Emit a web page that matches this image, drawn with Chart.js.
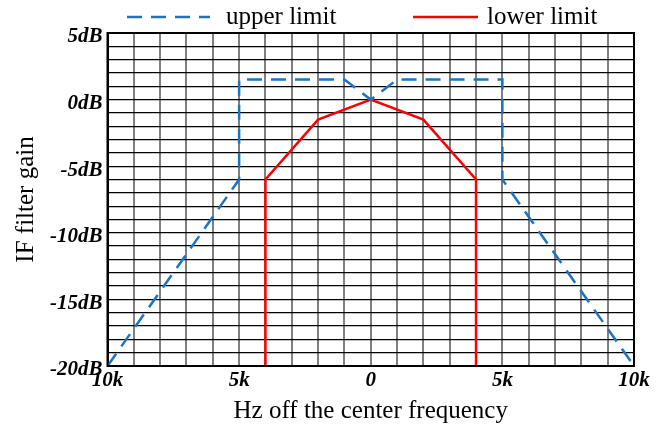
<!DOCTYPE html>
<html>
<head>
<meta charset="utf-8">
<script src="https://cdn.jsdelivr.net/npm/chart.js@4.4.0/dist/chart.umd.min.js"></script>
<style>
    html, body { margin: 0; padding: 0; background: #fff; }
    #wrap { width: 671px; height: 428px; }
</style>
</head>
<body>
<div id="wrap"><canvas id="ifChart"></canvas></div>
<script>
// offsets from the center frequency (Hz) and gain (dB)
const upperFreq = [-10000, -5000, -5000, -1000, 0, 1000, 5000, 5000, 10000];
const upperGain = [-20, -6, 1.5, 1.5, 0, 1.5, 1.5, -6, -20];
const lowerFreq = [-4000, -4000, -2000, 0, 2000, 4000, 4000];
const lowerGain = [-20, -6, -1.5, 0, -1.5, -6, -20];
const seriesNames = ['upper limit', 'lower limit'];
const xTickLabels = { '-10000': '10k', '-5000': '5k', '0': '0', '5000': '5k', '10000': '10k' };
const yTickLabels = { '5': '5dB', '0': '0dB', '-5': '-5dB', '-10': '-10dB', '-15': '-15dB', '-20': '-20dB' };

const toPoints = (xs, ys) => xs.map((x, i) => ({ x: x, y: ys[i] }));
const serif = 'Liberation Serif';

// black frame round the plot area
const frame = {
    id: 'frame',
    afterDatasetsDraw(chart) {
        const a = chart.chartArea, c = chart.ctx;
        c.save();
        c.strokeStyle = '#000';
        c.lineWidth = 2;
        c.strokeRect(a.left, a.top, a.right - a.left, a.bottom - a.top);
        c.restore();
    }
};

// legend row above the plot, line sample + label for each dataset
const lineLegend = {
    id: 'lineLegend',
    afterDraw(chart, args, opts) {
        const c = chart.ctx;
        c.save();
        c.font = opts.size + 'px "' + serif + '"';
        c.textBaseline = 'middle';
        c.fillStyle = '#000';
        chart.data.datasets.forEach((ds, i) => {
            const x0 = opts.starts[i], len = opts.lengths[i];
            c.strokeStyle = ds.borderColor;
            c.lineWidth = ds.borderWidth;
            c.setLineDash(ds.borderDash || []);
            c.beginPath();
            c.moveTo(x0, opts.y);
            c.lineTo(x0 + len, opts.y);
            c.stroke();
            c.fillText(ds.label, x0 + len + opts.gaps[i], opts.y);
        });
        c.restore();
    }
};

window.onload = function () {
    const ctx = document.getElementById('ifChart').getContext('2d');
    new Chart(ctx, {
        type: 'line',
        data: {
            datasets: [{
                label: seriesNames[0],
                data: toPoints(upperFreq, upperGain),
                borderColor: '#1a74c6',
                borderWidth: 2.5,
                borderDash: [15, 9],
                pointRadius: 0,
                tension: 0
            }, {
                label: seriesNames[1],
                data: toPoints(lowerFreq, lowerGain),
                borderColor: '#ff0000',
                borderWidth: 2.5,
                pointRadius: 0,
                tension: 0
            }]
        },
        options: {
            responsive: true,
            maintainAspectRatio: false,
            animation: false,
            devicePixelRatio: 1,
            layout: { padding: { left: 11, right: 37, top: 33, bottom: 2 } },
            plugins: {
                legend: { display: false },
                tooltip: { enabled: false },
                lineLegend: { y: 17, size: 25, gaps: [16, 9], starts: [127, 413], lengths: [83, 65] }
            },
            scales: {
                x: {
                    type: 'linear',
                    min: -10000,
                    max: 10000,
                    ticks: {
                        stepSize: 1000,
                        autoSkip: false,
                        maxRotation: 0,
                        padding: 4,
                        color: '#000',
                        font: { family: serif, size: 21, style: 'italic', weight: 'bold', lineHeight: 1 },
                        callback: (v) => xTickLabels[v] || ''
                    },
                    grid: { color: '#808080', lineWidth: 2, drawTicks: false },
                    border: { color: '#000', width: 2 },
                    title: {
                        display: true,
                        text: 'Hz off the center frequency',
                        color: '#000',
                        padding: { top: 1, bottom: 0 },
                        font: { family: serif, size: 25 }
                    }
                },
                y: {
                    min: -20,
                    max: 5,
                    ticks: {
                        stepSize: 1,
                        autoSkip: false,
                        maxTicksLimit: 100,
                        padding: 5,
                        labelOffset: 4,
                        color: '#000',
                        font: { family: serif, size: 21, style: 'italic', weight: 'bold' },
                        callback: (v) => yTickLabels[v] || ''
                    },
                    grid: { color: '#000', lineWidth: 1.3, drawTicks: false },
                    border: { color: '#000', width: 2 },
                    title: {
                        display: true,
                        text: 'IF filter gain',
                        color: '#000',
                        padding: { top: 0, bottom: 4 },
                        font: { family: serif, size: 25 }
                    }
                }
            }
        },
        plugins: [frame, lineLegend]
    });
};
</script>
</body>
</html>
